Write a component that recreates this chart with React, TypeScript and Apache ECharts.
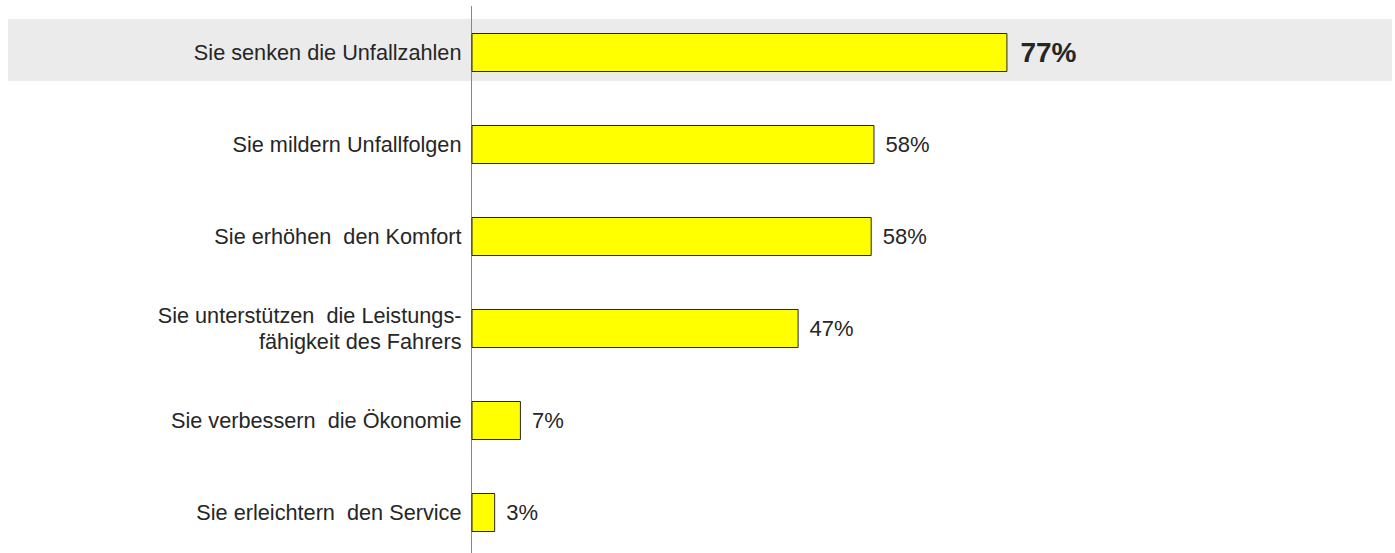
import React, { useEffect, useRef } from "react";
import * as echarts from "echarts";

const categories = [
  "Sie senken die Unfallzahlen",
  "Sie mildern Unfallfolgen",
  "Sie erhöhen  den Komfort",
  "Sie unterstützen  die Leistungs-\nfähigkeit des Fahrers",
  "Sie verbessern  die Ökonomie",
  "Sie erleichtern  den Service",
];
const values = [77, 57.9, 57.5, 47, 7.1, 3.4];
const valueLabels = ["77%", "58%", "58%", "47%", "7%", "3%"];
const highlightIndex = 0;

export default function App() {
  const ref = useRef<HTMLDivElement>(null);
  useEffect(() => {
    if (!ref.current) return;
    const chart = echarts.init(ref.current, null, { renderer: "svg" });
    const textColor = "#262626";
    chart.setOption({
      animation: false,
      textStyle: { fontFamily: "Liberation Sans, Arial, sans-serif" },
      grid: { left: 471.5, width: 696, top: 6.5, height: 552, containLabel: false },
      xAxis: {
        type: "value",
        min: 0,
        max: 100,
        show: false,
        splitLine: { show: false },
      },
      yAxis: {
        type: "category",
        inverse: true,
        data: categories,
        axisLine: { show: true, lineStyle: { color: "#868686", width: 1 } },
        axisTick: { show: false },
        axisLabel: {
          color: textColor,
          fontSize: 21.7,
          lineHeight: 26,
          margin: 10,
          align: "right",
          fontFamily: "Liberation Sans, Arial, sans-serif",
        },
      },
      graphic: [
        {
          type: "rect",
          z: -10,
          shape: { x: 8, y: 19, width: 1384, height: 62 },
          style: { fill: "#ebebeb" },
          silent: true,
        },
      ],
      series: [
        {
          type: "bar",
          barWidth: 39,
          data: values.map((v, i) =>
            i === highlightIndex
              ? { value: v, label: { fontWeight: "bold", fontSize: 28, distance: 13 } }
              : v
          ),
          itemStyle: { color: "#ffff00", borderColor: "#262626", borderWidth: 1 },
          label: {
            show: true,
            position: "right",
            distance: 11,
            color: textColor,
            fontSize: 22,
            fontFamily: "Liberation Sans, Arial, sans-serif",
            formatter: (p: any) => valueLabels[p.dataIndex],
          },
        },
      ],
    });
    return () => chart.dispose();
  }, []);
  return (
    <div
      style={{
        position: "fixed",
        left: 0,
        top: 0,
        width: 1395,
        height: 553,
        overflow: "hidden",
        background: "#fff",
      }}
    >
      <div ref={ref} style={{ width: 1395, height: 565 }} />
    </div>
  );
}
